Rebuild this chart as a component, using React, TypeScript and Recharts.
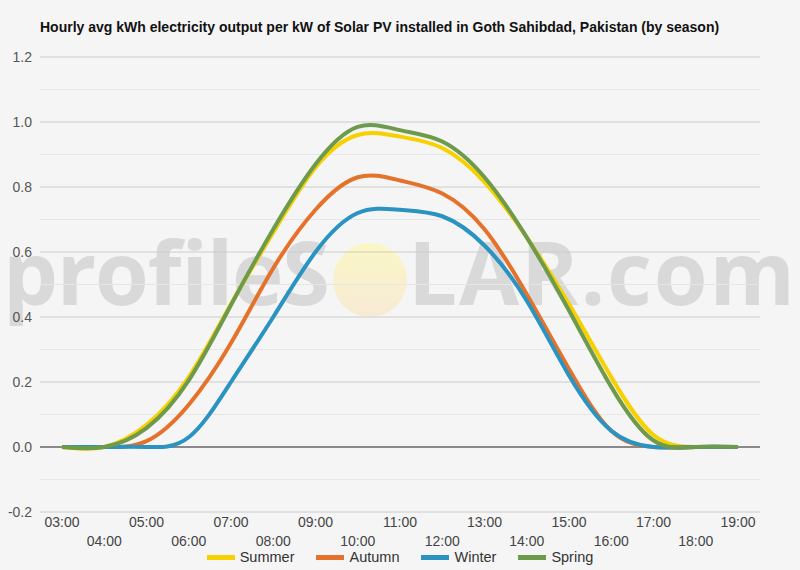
import React from 'react';
import { LineChart, Line, XAxis, YAxis, CartesianGrid, ReferenceLine } from 'recharts';

const hours = ['03:00', '04:00', '05:00', '06:00', '07:00', '08:00', '09:00', '10:00', '11:00', '12:00', '13:00', '14:00', '15:00', '16:00', '17:00', '18:00', '19:00'];
const summer = [0, 0, 0.068, 0.215, 0.44, 0.66, 0.86, 0.96, 0.955, 0.92, 0.815, 0.645, 0.44, 0.215, 0.037, 0, 0];
const autumn = [0, 0, 0.018, 0.13, 0.32, 0.55, 0.73, 0.83, 0.82, 0.78, 0.67, 0.47, 0.24, 0.05, 0, 0, 0];
const winter = [0, 0, 0, 0.03, 0.2, 0.4, 0.6, 0.72, 0.73, 0.71, 0.62, 0.45, 0.22, 0.05, 0, 0, 0];
const spring = [0, 0, 0.058, 0.205, 0.437, 0.67, 0.87, 0.985, 0.975, 0.94, 0.83, 0.645, 0.42, 0.185, 0.02, 0, 0];

const yTicks = [-0.2, 0, 0.2, 0.4, 0.6, 0.8, 1.0, 1.2];
const minorLines = [-0.1, 0.1, 0.3, 0.5, 0.7, 0.9, 1.1];

const series = [
  { key: 'summer', name: 'Summer', color: '#F7D000', values: summer },
  { key: 'autumn', name: 'Autumn', color: '#E5722A', values: autumn },
  { key: 'winter', name: 'Winter', color: '#2A93C1', values: winter },
  { key: 'spring', name: 'Spring', color: '#6E9A4C', values: spring },
];

const data = hours.map((h, i) => {
  const row: any = { hour: h };
  series.forEach((s) => { row[s.key] = s.values[i]; });
  return row;
});

const FONT = '"Liberation Sans", Arial, sans-serif';

function HourTick(props: any) {
  const { x, y, payload, index } = props;
  const low = index % 2 === 1;
  return (
    <text x={x} y={y + (low ? 26 : 7)} textAnchor="middle" fontSize={14} fill="#444" fontFamily={FONT}>
      {payload.value}
    </text>
  );
}

// background logo, drawn under the chart
function Watermark() {
  return (
    <div style={{ position: 'absolute', left: 0, top: 0, width: 800, height: 570, pointerEvents: 'none' }}>
      <svg width={800} height={570}>
        <defs>
          <linearGradient id="sun" x1="0" y1="0" x2="0" y2="1">
            <stop offset="0%" stopColor="#FAF7C4" />
            <stop offset="100%" stopColor="#F7EAD6" />
          </linearGradient>
        </defs>
        <text x={3} y={305} fontSize={87} fontWeight={700} fill="#D9D9D9" fontFamily='"Open Sans", sans-serif' textLength={327}>profileS</text>
        <circle cx={370} cy={280} r={37} fill="url(#sun)" />
        <text x={408} y={305} fontSize={87} fontWeight={700} fill="#D9D9D9" fontFamily='"Open Sans", sans-serif' textLength={387}>LAR.com</text>
      </svg>
    </div>
  );
}

export default function App() {
  return (
    <div style={{ position: 'absolute', left: 0, top: 0, width: 800, height: 570, background: '#F5F5F5', fontFamily: FONT, overflow: 'hidden' }}>
      <Watermark />
      <div style={{ position: 'absolute', left: 40, top: 19, fontSize: 14, fontWeight: 'bold', color: '#111' }}>
        Hourly avg kWh electricity output per kW of Solar PV installed in Goth Sahibdad, Pakistan (by season)
      </div>
      <div style={{ position: 'absolute', left: 0, top: 0 }}>
        <LineChart width={800} height={570} data={data} margin={{ top: 57, right: 40, left: 0, bottom: 0 }}>
          <CartesianGrid vertical={false} stroke="#CCCCCC" />
          {minorLines.map((v) => (
            <ReferenceLine key={v} y={v} stroke="#E6E6E6" strokeWidth={1} />
          ))}
          <ReferenceLine y={0} stroke="#333" strokeWidth={1} />
          <XAxis dataKey="hour" interval={0} axisLine={false} tickLine={false} height={58} padding={{ left: 22, right: 22 }} tick={<HourTick />} />
          <YAxis domain={[-0.2, 1.2]} ticks={yTicks} width={40} axisLine={false} tickLine={false} tickFormatter={(v: number) => v.toFixed(1)} tick={{ fontSize: 14, fill: '#555', fontFamily: FONT }} />
          {series.map((s) => (
            <Line key={s.key} dataKey={s.key} name={s.name} type="natural" stroke={s.color} strokeWidth={4} dot={false} activeDot={false} isAnimationActive={false} />
          ))}
        </LineChart>
      </div>
      <div style={{ position: 'absolute', left: 0, width: 800, top: 549, display: 'flex', justifyContent: 'center', fontSize: 14.5, color: '#333' }}>
        {series.map((s) => (
          <div key={s.key} style={{ display: 'flex', alignItems: 'center', margin: '0 11px' }}>
            <span style={{ display: 'inline-block', width: 28, height: 5, background: s.color, marginRight: 5 }} />
            <span>{s.name}</span>
          </div>
        ))}
      </div>
    </div>
  );
}
